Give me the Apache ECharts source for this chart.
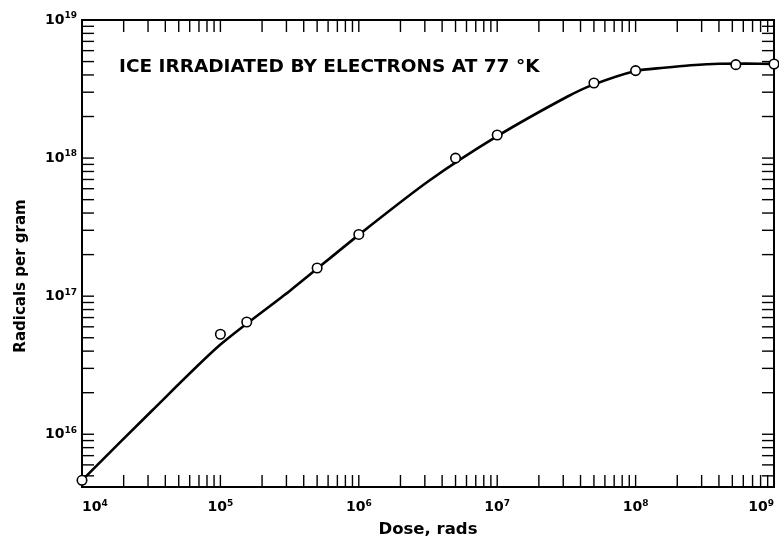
<!DOCTYPE html>
<html>
<head>
<meta charset="utf-8">
<script src="https://cdn.jsdelivr.net/npm/echarts@6/dist/echarts.min.js"></script>
<style>
  html, body { margin: 0; padding: 0; background: #ffffff; }
  #chart { width: 779px; height: 543px; }
</style>
</head>
<body>
<div id="chart"></div>
<script>
// Measured points: dose (rads) and radical concentration (per gram)
const doses    = [1e4, 1e5, 1.55e5, 5e5, 1e6, 5e6, 1e7, 5e7, 1e8, 5.3e8, 1e9];
const radicals = [4.64e15, 5.3e16, 6.5e16, 1.6e17, 2.8e17, 1.0e18, 1.47e18, 3.5e18, 4.3e18, 4.75e18, 4.8e18];

// Smooth fitted curve through the measurements
const curveDose     = [1e4, 3.2e4, 1e5, 3.2e5, 1e6, 3.2e6, 1e7, 3.2e7, 5e7, 1e8, 1.6e8, 2.5e8, 4e8, 6.3e8, 1e9];
const curveRadicals = [4.64e15, 1.48e16, 4.46e16, 1.1e17, 2.78e17, 6.82e17, 1.44e18, 2.78e18, 3.42e18, 4.28e18, 4.51e18, 4.7e18, 4.82e18, 4.83e18, 4.81e18];

// Axis ranges
const X_MIN = 1e4, X_MAX = 1e9;
const Y_MIN = 4.15e15, Y_MAX = 1e19;

const titleText = 'ICE IRRADIATED BY ELECTRONS AT 77 °K';
const xName = 'Dose, rads';
const yName = 'Radicals per gram';

const FONT = 'DejaVu Sans';
const TICK = 12;

// Log-scale tick marks at 1..9 times each power of ten
const mult = [1, 2, 3, 4, 5, 6, 7, 8, 9];
const xTicks = [];
for (let e = 4; e <= 8; e++) mult.forEach(m => xTicks.push(m * Math.pow(10, e)));
xTicks.push(1e9);
const yTicks = [];
for (let e = 15; e <= 18; e++) mult.forEach(m => {
  const v = m * Math.pow(10, e);
  if (v >= Y_MIN) yTicks.push(v);
});
yTicks.push(1e19);

function powLabel(v) {
  const e = Math.log10(v);
  if (Math.abs(e - Math.round(e)) > 1e-6) return '';
  return '10{s|' + Math.round(e) + '}';
}

const labelRich = {
  s: { fontFamily: FONT, fontWeight: 'bold', fontSize: 9, color: '#000', verticalAlign: 'top', padding: [0, 0, 8, 0] }
};

const chart = echarts.init(document.getElementById('chart'));
chart.setOption({
  animation: false,
  backgroundColor: '#ffffff',
  title: {
    text: titleText,
    left: 114,
    top: 53,
    textStyle: { fontFamily: FONT, fontWeight: 'bold', fontSize: 18.5, color: '#000' }
  },
  grid: {
    left: 82, right: 5, top: 20, bottom: 51,
    show: true, borderColor: '#000', borderWidth: 2, backgroundColor: 'transparent'
  },
  xAxis: {
    type: 'log', logBase: 10, min: X_MIN, max: X_MAX,
    name: xName, nameLocation: 'middle', nameGap: 34,
    nameTextStyle: { fontFamily: FONT, fontWeight: 'bold', fontSize: 16.5, color: '#000' },
    axisLine: { show: true, lineStyle: { color: '#000', width: 2 } },
    axisTick: { show: false },
    splitLine: { show: false },
    axisLabel: {
      formatter: powLabel, margin: 12, color: '#000',
      fontFamily: FONT, fontWeight: 'bold', fontSize: 14,
      alignMinLabel: 'left', alignMaxLabel: 'right', rich: labelRich
    }
  },
  yAxis: {
    type: 'log', logBase: 10, min: Y_MIN, max: Y_MAX,
    axisLine: { show: true, lineStyle: { color: '#000', width: 2 } },
    axisTick: { show: false },
    splitLine: { show: false },
    axisLabel: {
      formatter: powLabel, margin: 5, color: '#000',
      fontFamily: FONT, fontWeight: 'bold', fontSize: 14, rich: labelRich
    }
  },
  graphic: [{
    type: 'text',
    x: 21, y: 276,
    rotation: Math.PI / 2,
    style: {
      text: yName, fill: '#000',
      font: 'bold 15px ' + FONT,
      textAlign: 'center', textVerticalAlign: 'middle'
    }
  }],
  series: [
    {
      type: 'custom', clip: false, silent: true,
      data: xTicks.map(v => [v, Y_MIN]),
      encode: { x: 0, y: 1 },
      renderItem: function (params, api) {
        const v = api.value(0);
        const b = api.coord([v, Y_MIN]);
        const t = api.coord([v, Y_MAX]);
        const st = { stroke: '#000', lineWidth: 1.4 };
        return { type: 'group', children: [
          { type: 'line', shape: { x1: b[0], y1: b[1], x2: b[0], y2: b[1] - TICK }, style: st },
          { type: 'line', shape: { x1: t[0], y1: t[1], x2: t[0], y2: t[1] + TICK }, style: st }
        ]};
      }
    },
    {
      type: 'custom', clip: false, silent: true,
      data: yTicks.map(v => [X_MIN, v]),
      encode: { x: 0, y: 1 },
      renderItem: function (params, api) {
        const v = api.value(1);
        const l = api.coord([X_MIN, v]);
        const r = api.coord([X_MAX, v]);
        const st = { stroke: '#000', lineWidth: 1.4 };
        return { type: 'group', children: [
          { type: 'line', shape: { x1: l[0], y1: l[1], x2: l[0] + TICK, y2: l[1] }, style: st },
          { type: 'line', shape: { x1: r[0], y1: r[1], x2: r[0] - TICK, y2: r[1] }, style: st }
        ]};
      }
    },
    {
      type: 'line', smooth: 0.25, clip: false, silent: true,
      data: curveDose.map((d, i) => [d, curveRadicals[i]]),
      showSymbol: false, symbol: 'none',
      lineStyle: { color: '#000', width: 2.6 }
    },
    {
      type: 'scatter', clip: false, silent: true,
      data: doses.map((d, i) => [d, radicals[i]]),
      symbol: 'circle', symbolSize: 9.5,
      itemStyle: { color: '#fff', borderColor: '#000', borderWidth: 1.6, opacity: 1 },
      z: 5
    }
  ]
});
</script>
</body>
</html>
